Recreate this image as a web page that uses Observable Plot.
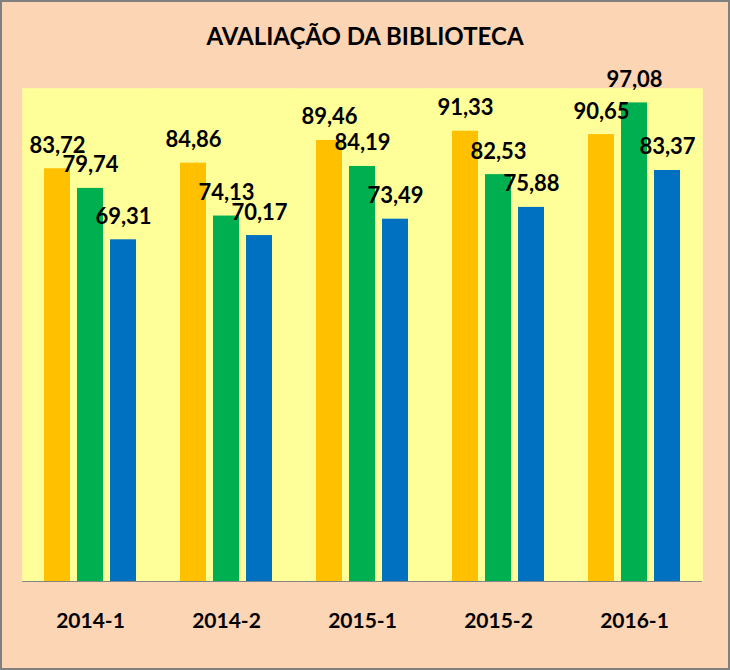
<!DOCTYPE html>
<html>
<head>
<meta charset="utf-8">
<script src="https://cdn.jsdelivr.net/npm/d3@7"></script>
<script src="https://cdn.jsdelivr.net/npm/@observablehq/plot@0.6"></script>
<style>
  body { margin: 0; }
  #wrap { position: relative; width: 730px; height: 670px; background: #FCD5B5; overflow: hidden; }
  #title { position: absolute; left: 0; width: 730px; top: 24px; text-align: center;
           font-family: Lato, "Open Sans", sans-serif; font-size: 24px; line-height: 24px;
           font-weight: bold; color: #000; }
  #border { position: absolute; inset: 0; border: 2px solid #808080; box-sizing: border-box; pointer-events: none; }
  #chart { position: absolute; left: 0; top: 0; }
</style>
</head>
<body>
<div id="wrap">
  <div id="chart"></div>
  <div id="title">AVALIAÇÃO DA BIBLIOTECA</div>
  <div id="border"></div>
</div>
<script>
const periods = ["2014-1", "2014-2", "2015-1", "2015-2", "2016-1"];
const seriesNames = ["Série 1", "Série 2", "Série 3"];
const serie1 = [83.72, 84.86, 89.46, 91.33, 90.65];
const serie2 = [79.74, 74.13, 84.19, 82.53, 97.08];
const serie3 = [69.31, 70.17, 73.49, 75.88, 83.37];
const colors = ["#FFC000", "#00B050", "#0070C0"];

const allSeries = [serie1, serie2, serie3];
const data = [];
periods.forEach((p, i) => {
  allSeries.forEach((s, j) => data.push({ period: p, serie: seriesNames[j], value: s[i] }));
});
const fmt = v => v.toFixed(2).replace(".", ",");

const chart = Plot.plot({
  width: 730,
  height: 670,
  marginTop: 88,
  marginBottom: 89,
  marginLeft: 20,
  marginRight: 27,
  style: { background: "transparent", fontFamily: "Lato, 'Open Sans', sans-serif", color: "#000" },
  fx: { domain: periods, padding: 0, label: null },
  x: { domain: seriesNames, axis: null, paddingInner: 0.206, paddingOuter: 0.61 },
  y: { domain: [0, 100], axis: null },
  color: { domain: seriesNames, range: colors },
  marks: [
    Plot.frame({ fill: "#FFFF99", stroke: "#FFFF99", strokeWidth: 0.6 }),
    Plot.barY(data, { fx: "period", x: "serie", y: "value", fill: "serie" }),
    Plot.ruleY([0], { stroke: "#868686", strokeWidth: 1.2 }),
    Plot.text(data, { fx: "period", x: "serie", y: "value", text: d => fmt(d.value),
      lineAnchor: "bottom", dy: -16, fontSize: 22, fontWeight: "bold", fill: "#000" }),
    Plot.axisFx({ anchor: "bottom", tickSize: 0, tickPadding: 32, fontSize: 21, fontWeight: "bold", label: null, fill: "#000" })
  ]
});
document.getElementById("chart").appendChild(chart);
</script>
</body>
</html>
